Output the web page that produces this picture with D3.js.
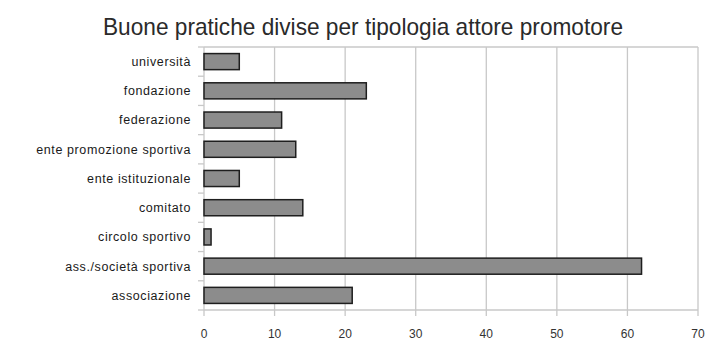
<!DOCTYPE html>
<html>
<head>
<meta charset="utf-8">
<script src="https://cdn.jsdelivr.net/npm/d3@7"></script>
<style>
  body { margin: 0; background: #fff; }
  svg { display: block; font-family: "Liberation Sans", Arial, sans-serif; }
</style>
</head>
<body>
<script>
  // data
  const title = "Buone pratiche divise per tipologia attore promotore";
  const categories = ["università", "fondazione", "federazione", "ente promozione sportiva",
    "ente istituzionale", "comitato", "circolo sportivo", "ass./società sportiva", "associazione"];
  const values = [5, 23, 11, 13, 5, 14, 1, 62, 21];
  const xTicks = [0, 10, 20, 30, 40, 50, 60, 70];

  const width = 709, height = 341;
  const margin = { top: 47, right: 11, bottom: 31, left: 204 };

  const svg = d3.select("body").append("svg")
    .attr("width", width)
    .attr("height", height);

  const x = d3.scaleLinear()
    .domain([0, 70])
    .range([margin.left, width - margin.right]);

  const y = d3.scaleBand()
    .domain(categories)
    .range([margin.top, height - margin.bottom])
    .paddingInner(0.45)
    .paddingOuter(0.225);

  // gridlines
  svg.append("g")
    .selectAll("line")
    .data(xTicks)
    .join("line")
    .attr("x1", d => x(d)).attr("x2", d => x(d))
    .attr("y1", margin.top).attr("y2", height - margin.bottom + 6)
    .attr("stroke", "#c8c8c8")
    .attr("stroke-width", 1.3);

  // top border and bottom axis line
  svg.append("line")
    .attr("x1", x(0)).attr("x2", x(70))
    .attr("y1", margin.top).attr("y2", margin.top)
    .attr("stroke", "#c8c8c8").attr("stroke-width", 1.3);
  svg.append("line")
    .attr("x1", x(0)).attr("x2", x(70))
    .attr("y1", height - margin.bottom).attr("y2", height - margin.bottom)
    .attr("stroke", "#c8c8c8").attr("stroke-width", 1.3);

  // category separator ticks on the left
  const step = y.step();
  svg.append("g")
    .selectAll("line")
    .data(d3.range(categories.length + 1))
    .join("line")
    .attr("x1", x(0) - 6).attr("x2", x(0))
    .attr("y1", i => margin.top + i * step)
    .attr("y2", i => margin.top + i * step)
    .attr("stroke", "#c8c8c8").attr("stroke-width", 1.3);

  // bars
  svg.append("g")
    .selectAll("rect")
    .data(categories)
    .join("rect")
    .attr("x", x(0))
    .attr("y", d => y(d))
    .attr("width", (d, i) => x(values[i]) - x(0))
    .attr("height", y.bandwidth())
    .attr("fill", "#8c8c8c")
    .attr("stroke", "#1e1e1e")
    .attr("stroke-width", 1.5);

  // category labels
  svg.append("g")
    .selectAll("text")
    .data(categories)
    .join("text")
    .attr("x", x(0) - 13)
    .attr("y", d => y(d) + y.bandwidth() / 2)
    .attr("dy", "0.35em")
    .attr("text-anchor", "end")
    .attr("font-size", 12.5)
    .attr("letter-spacing", 0.6)
    .attr("fill", "#1a1a1a")
    .text(d => d);

  // tick labels
  svg.append("g")
    .selectAll("text")
    .data(xTicks)
    .join("text")
    .attr("x", d => x(d))
    .attr("y", 338)
    .attr("text-anchor", "middle")
    .attr("font-size", 12)
    .attr("fill", "#333")
    .text(d => d);

  // title (narrow face in the original, so squeeze to its width)
  svg.append("text")
    .attr("x", 363)
    .attr("y", 35)
    .attr("text-anchor", "middle")
    .attr("font-size", 24)
    .attr("textLength", 520)
    .attr("lengthAdjust", "spacingAndGlyphs")
    .attr("fill", "#2a2a2a")
    .text(title);
</script>
</body>
</html>
